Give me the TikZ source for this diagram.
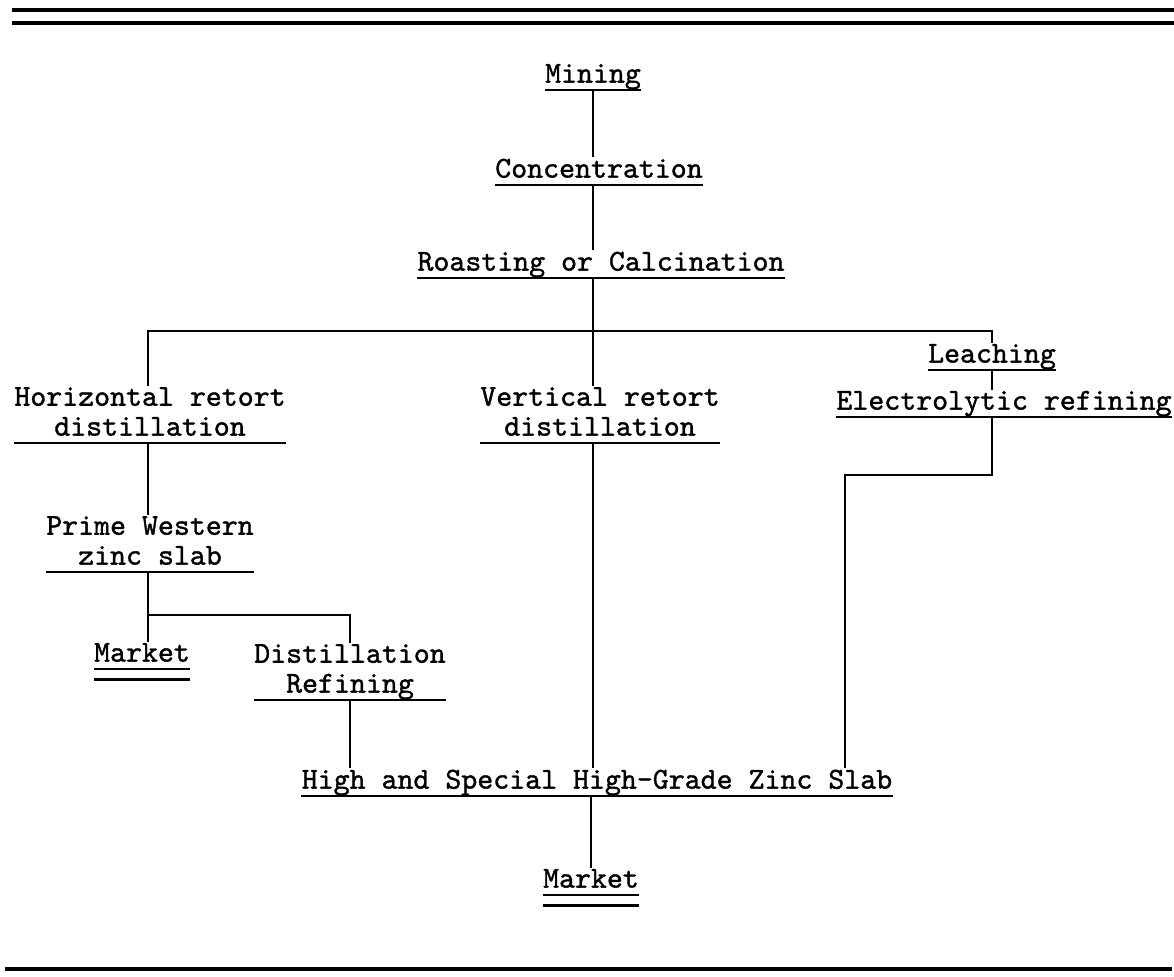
\documentclass[tikz,border=0pt]{standalone}
\usepackage{fontspec}
\newfontfamily\typer{lmmono10-regular.otf}[FakeBold=1.2]

\begin{document}
\begin{tikzpicture}[x=0.02cm, y=-0.02cm,
    stage/.style={font=\typer\fontsize{17.3}{17}\selectfont, align=center, anchor=south,
        inner xsep=0pt, inner ysep=0.5pt, text depth=3.5pt},
    link/.style={line width=0.8pt},
    uline/.style={line width=1.6pt},
    rule/.style={line width=1.9pt}]
    \useasboundingbox (0,0) rectangle (1174,977);
    \draw[rule] (12,10) -- (1174,10);
    \draw[rule] (12,23) -- (1174,23);
    \draw[rule] (5,969) -- (1172,969); % 下边框
    % 各工序
    \node[stage] (mining) at (593,90) {Mining};
    \node[stage] (conc) at (599,185) {Concentration};
    \node[stage] (roast) at (601,278) {Roasting or Calcination};
    \node[stage] (horiz) at (150,443) {Horizontal retort\\distillation};
    \node[stage] (vert) at (600,443) {Vertical retort\\distillation};
    \node[stage] (leach) at (992,370) {Leaching};
    \node[stage] (electro) at (1004,417) {Electrolytic refining};
    \node[stage] (prime) at (150,572) {Prime Western\\zinc slab};
    \node[stage] (market1) at (142,669) {Market};
    \node[stage] (distref) at (350,700) {Distillation\\Refining};
    \node[stage] (grade) at (597,796) {High and Special High-Grade Zinc Slab};
    \node[stage] (market2) at (591,895) {Market};
    \foreach \n in {mining,conc,roast,horiz,vert,leach,electro,prime,market1,distref,grade,market2}
        \draw[uline] (\n.south west) -- (\n.south east); % 下划线
    \foreach \n in {market1,market2}
        \draw[uline] ([yshift=-6pt]\n.south west) -- ([yshift=-6pt]\n.south east); % 双下划线
    % 连线
    \coordinate (split) at (593,331);
    \coordinate (pturn) at (148,615);
    \coordinate (eturn) at (845,475);
    \draw[link] (mining.south) -- (mining.south |- conc.north);
    \draw[link] (mining.south |- conc.south) -- (mining.south |- roast.north);
    \draw[link] (split |- roast.south) -- (split |- vert.north);
    \draw[link] (horiz.north -| pturn) |- (split) -| (leach.north);
    \draw[link] (leach.south) -- (leach.south |- electro.north);
    \draw[link] (leach.south |- electro.south) |- (eturn) -- (eturn |- grade.north);
    \draw[link] (split |- vert.south) -- (split |- grade.north);
    \draw[link] (pturn |- horiz.south) -- (pturn |- prime.north);
    \draw[link] (pturn |- prime.south) -- (pturn |- market1.north);
    \draw[link] (pturn) -| (distref.north);
    \draw[link] (distref.south) -- (distref.south |- grade.north);
    \draw[link] (grade.south -| market2) -- (market2.north);
\end{tikzpicture}
\end{document}
